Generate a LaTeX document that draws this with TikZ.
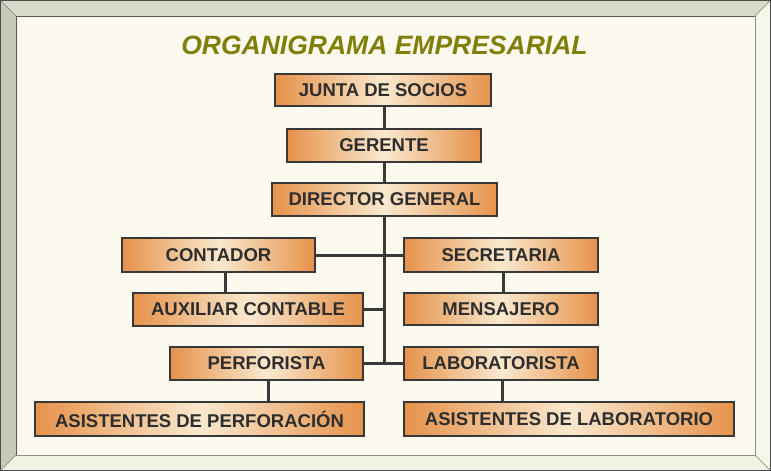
\documentclass[tikz,border=0pt]{standalone}
\usepackage{fontspec}
\setmainfont{Liberation Sans}
\definecolor{bgin}{HTML}{FCF9EE}
\definecolor{bevtop}{HTML}{D9D9C9}
\definecolor{bevleft}{HTML}{C8C8B8}
\definecolor{bevright}{HTML}{F7F7E9}
\definecolor{bevbot}{HTML}{F2F2E2}
\definecolor{titlecol}{HTML}{7F7F0A}
\definecolor{boxedge}{HTML}{383838}
\definecolor{boxside}{HTML}{E6924A}
\definecolor{boxmid}{HTML}{F9E9CF}
\definecolor{txt}{HTML}{2E2E2E}
\begin{document}
\begin{tikzpicture}[x=1pt,y=-1pt,
  box/.style={draw=boxedge, line width=2.6pt, left color=boxside, right color=boxside, middle color=boxmid,
    minimum height=33pt, inner sep=0pt, font=\fontsize{18.5}{21}\selectfont\bfseries, text=txt},
  link/.style={draw=boxedge, line width=3pt}]
\useasboundingbox (0,0) rectangle (771,471);
% frame
\fill[bgin] (0,0) rectangle (771,471);
\fill[bevtop] (0,0) -- (771,0) -- (755,16) -- (16,16) -- cycle;
\fill[bevleft] (0,0) -- (16,16) -- (16,455) -- (0,471) -- cycle;
\fill[bevright] (771,0) -- (771,471) -- (755,455) -- (755,16) -- cycle;
\fill[bevbot] (0,471) -- (771,471) -- (755,455) -- (16,455) -- cycle;
\draw[black!65, line width=0.8pt] (16,455) -- (16,16) -- (755,16);
\draw[black!45, line width=0.8pt] (16,455) -- (755,455) -- (755,16);
\draw[black!50, line width=0.6pt] (0,0) -- (16,16) (771,0) -- (755,16) (0,471) -- (16,455) (771,471) -- (755,455);
\draw[black!70, line width=1.2pt] (0.6,0.6) rectangle (770.4,470.4);
% title
\node[font=\fontsize{26.5}{30}\selectfont\bfseries\itshape, text=titlecol] (title) at (384.5,45) {ORGANIGRAMA EMPRESARIAL};
% boxes
\node[box, minimum width=216pt, minimum height=32pt] (junta) at (383,90) {JUNTA DE SOCIOS};
\node[box, minimum width=194pt] (gerente) at (384,145.5) {GERENTE};
\node[box, minimum width=225pt] (director) at (384.5,199.5) {DIRECTOR GENERAL};
\node[box, minimum width=193pt, minimum height=34pt] (contador) at (218.5,255) {CONTADOR};
\node[box, minimum width=194pt, minimum height=34pt] (secretaria) at (501,255) {SECRETARIA};
\node[box, minimum width=230pt] (auxiliar) at (248,309.5) {AUXILIAR CONTABLE};
\node[box, minimum width=194pt, minimum height=32pt] (mensajero) at (501,309) {MENSAJERO};
\node[box, minimum width=193pt] (perforista) at (266.5,363.5) {PERFORISTA};
\node[box, minimum width=194pt] (laboratorista) at (501,363.5) {LABORATORISTA};
\node[box, minimum width=329pt, minimum height=34pt] (asisperf) at (199.5,419) {ASISTENTES DE PERFORACIÓN};
\node[box, minimum width=330pt, minimum height=34pt] (asislab) at (569,419) {ASISTENTES DE LABORATORIO};
% connectors
\coordinate (spineend) at (384,363.5);
\path[link] (gerente.north -| spineend) -- (junta.south -| spineend);
\path[link] (director.north -| spineend) -- (gerente.south -| spineend);
\path[link] (director.south -| spineend) -- (spineend);
\path[link] (contador.east) -- (secretaria.west);
\path[link] (auxiliar.east) -- (auxiliar.east -| spineend);
\path[link] (perforista.east) -- (laboratorista.west);
\coordinate (cx) at (225,0);
\path[link] (contador.south -| cx) -- (auxiliar.north -| cx);
\coordinate (mx) at (503,0);
\path[link] (secretaria.south -| mx) -- (mensajero.north -| mx);
\coordinate (px) at (268,0);
\path[link] (perforista.south -| px) -- (asisperf.north -| px);
\coordinate (lx) at (502,0);
\path[link] (laboratorista.south -| lx) -- (asislab.north -| lx);
\end{tikzpicture}
\end{document}
